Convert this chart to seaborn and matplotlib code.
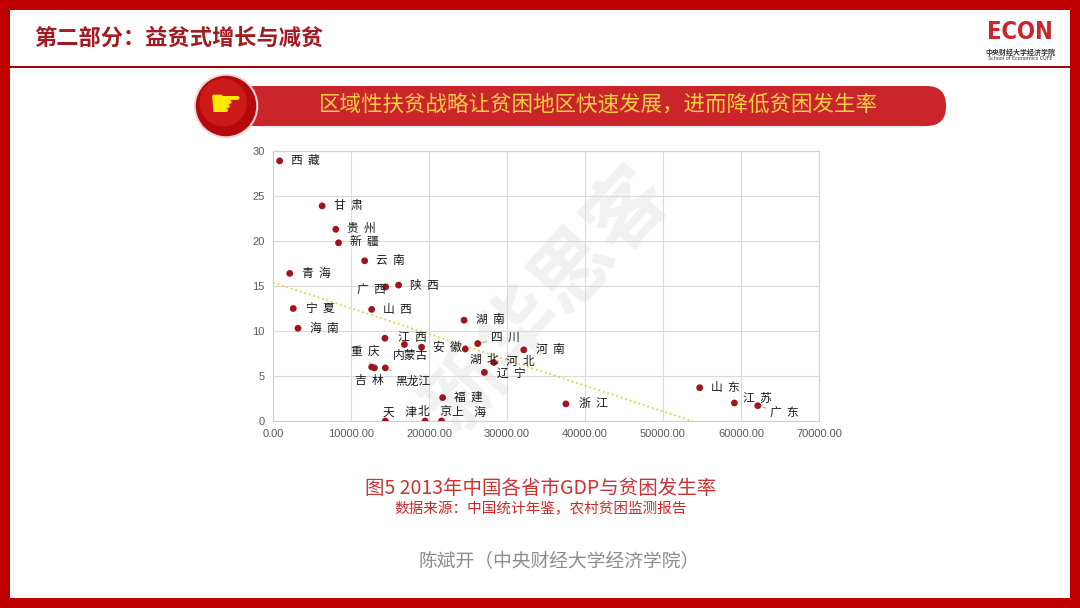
import numpy as np
import pandas as pd
import matplotlib
matplotlib.use("Agg")
import matplotlib.pyplot as plt
from matplotlib.patches import Rectangle, FancyBboxPatch, Circle
import seaborn as sns

# ---------------- data ----------------
provinces = ["西藏", "甘肃", "贵州", "新疆", "云南", "青海", "广西", "陕西", "宁夏", "海南",
             "山西", "湖南", "江西", "内蒙古", "安徽", "湖北", "四川", "河南", "河北", "辽宁",
             "重庆", "吉林", "黑龙江", "福建", "天津", "北京", "上海", "山东", "浙江", "江苏", "广东"]
gdp = [850, 6300, 8050, 8400, 11750, 2150, 14450, 16100, 2600, 3200,
       12650, 24500, 14350, 16850, 19050, 24650, 26250, 32150, 28300, 27100,
       12650, 13000, 14400, 21750, 14400, 19500, 21600, 54700, 37550, 59150, 62150]
poverty = [28.9, 23.9, 21.3, 19.8, 17.8, 16.4, 14.9, 15.1, 12.5, 10.3,
           12.4, 11.2, 9.2, 8.5, 8.2, 8.0, 8.6, 7.9, 6.5, 5.4,
           6.0, 5.9, 5.9, 2.6, 0.0, 0.0, 0.0, 3.7, 1.9, 2.0, 1.7]
x_ticks = [0, 10000, 20000, 30000, 40000, 50000, 60000, 70000]
y_ticks = [0, 5, 10, 15, 20, 25, 30]

header_title = "第二部分：益贫式增长与减贫"
banner_text = "区域性扶贫战略让贫困地区快速发展，进而降低贫困发生率"
caption = "图5 2013年中国各省市GDP与贫困发生率"
source = "数据来源：中国统计年鉴，农村贫困监测报告"
author = "陈斌开（中央财经大学经济学院）"

# ---------------- layout (label offsets in pixels, leaders) ----------------
label_offsets = {
    "西藏": (26, 0), "甘肃": (26, 0), "贵州": (26, 1), "新疆": (26, 1), "云南": (26, 0),
    "青海": (27, 0), "广西": (-14, -3), "陕西": (26, 0), "宁夏": (27, 0), "海南": (26, 0),
    "山西": (26, 0), "湖南": (26, 1), "江西": (27, 1), "内蒙古": (6, -11), "安徽": (26, 0),
    "湖北": (19, -10), "四川": (28, 6), "河南": (27, 0), "河北": (27, 1), "辽宁": (27, -1),
    "重庆": (-6, 16), "吉林": (-5, -13), "黑龙江": (28, -13), "福建": (26, 0),
    "天津": (15, 9), "北京": (10, 9), "上海": (28, 9), "山东": (26, 0), "浙江": (27, 0),
    "江苏": (23, 5), "广东": (27, -8),
}
leaders = {"四川", "重庆", "黑龙江", "广东"}
wide = {"天津", "北京", "上海"}

W, H = 1080, 608
sns.set_theme(style="white")
plt.rcParams["font.family"] = ["Noto Sans CJK SC", "DejaVu Sans"]

fig = plt.figure(figsize=(W / 100, H / 100), dpi=100)
fig.patch.set_facecolor("white")

def fx(x):
    return x / W

def fy(y):
    return 1 - y / H

# background watermark layer
bg = fig.add_axes([0, 0, 1, 1], zorder=-5)
bg.set_xlim(0, W); bg.set_ylim(H, 0); bg.axis("off")
bg.text(548, 300, "新华思客", fontsize=58, fontweight="bold", color="#F1F1F1",
        rotation=48, ha="center", va="center")

# page frame
red = "#C00000"
for (x0, y0, w, h) in [(0, 0, W, 10), (0, 0, 10, H), (0, 598, W, 10), (1070, 0, 10, H)]:
    fig.patches.append(Rectangle((fx(x0), fy(y0 + h)), w / W, h / H, transform=fig.transFigure,
                                 facecolor=red, edgecolor="none", zorder=0))
# header rule
fig.patches.append(Rectangle((fx(10), fy(68)), 1060 / W, 2 / H, transform=fig.transFigure,
                             facecolor="#A80000", edgecolor="none", zorder=1))
fig.text(fx(34), fy(38), header_title, fontsize=16, fontweight="bold", color="#A31A20",
         ha="left", va="center")

# logo
fig.text(fx(1020), fy(32), "ECON", fontsize=17, fontweight="bold", color="#C8262C",
         ha="center", va="center", family=["DejaVu Sans"], stretch="condensed")
fig.text(fx(1020), fy(52), "中央财经大学经济学院", fontsize=5, fontweight="bold", color="#333333",
         ha="center", va="center")
fig.text(fx(1020), fy(58), "School of Economics CUFE", fontsize=3.5, color="#333333",
         ha="center", va="center", family=["DejaVu Sans"])

# banner
fig.patches.append(FancyBboxPatch((fx(236), fy(128)), (948 - 236) / W, 42 / H,
                                  boxstyle="round,pad=0,rounding_size=0.03",
                                  transform=fig.transFigure, facecolor="#EDEFF5",
                                  edgecolor="none", zorder=1, mutation_aspect=W / H))
fig.patches.append(FancyBboxPatch((fx(236), fy(126)), (946 - 236) / W, 40 / H,
                                  boxstyle="round,pad=0,rounding_size=0.018",
                                  transform=fig.transFigure, facecolor="#C9252B",
                                  edgecolor="none", zorder=2, mutation_aspect=W / H))
fig.text(fx(598), fy(105), banner_text, fontsize=15.5, color="#F6CF45", ha="center", va="center")
circ_ax = fig.add_axes([fx(192), fy(140), 68 / W, 68 / H], zorder=10)
circ_ax.set_xlim(-1, 1); circ_ax.set_ylim(-1, 1); circ_ax.set_aspect("equal"); circ_ax.axis("off")
circ_ax.add_patch(Circle((0, 0), 0.95, facecolor="#F3D6D6", edgecolor="none"))
circ_ax.add_patch(Circle((0, 0), 0.89, facecolor="#B40A0E", edgecolor="none"))
circ_ax.add_patch(Circle((-0.08, 0.1), 0.7, facecolor="#CC1A1A", edgecolor="none"))
circ_ax.text(0, 0.0, "☛", fontsize=27, color="#FFEA00", ha="center", va="center",
             family=["DejaVu Sans"])

# ---------------- chart ----------------
ax = fig.add_axes([fx(273), fy(421), (819 - 273) / W, (421 - 151) / H])
ax.set_facecolor("none")
df = pd.DataFrame({"province": provinces, "gdp": gdp, "poverty": poverty})

coef = np.polyfit(df["gdp"], df["poverty"], 1)
xs = np.linspace(0, max(gdp), 200)
ax.plot(xs, np.polyval(coef, xs), color="#E3CF4E", lw=1.3, ls=(0, (1, 1.6)), zorder=2)

sns.scatterplot(data=df, x="gdp", y="poverty", ax=ax, color="#A0141A", s=24,
                edgecolor="none", legend=False, zorder=3)

for name, xv, yv in zip(provinces, gdp, poverty):
    if len(name) == 2:
        txt = name[0] + ("    " if name in wide else "  ") + name[1]
    else:
        txt = name
    dx, dy = label_offsets[name]
    kw = {}
    if name in leaders:
        kw["arrowprops"] = dict(arrowstyle="-", color="#A6A6A6", lw=0.7, shrinkA=1, shrinkB=3)
    ax.annotate(txt, (xv, yv), xytext=(dx, dy), textcoords="offset pixels",
                fontsize=8.5, color="#1A1A1A", ha="center", va="center", zorder=4, **kw)

ax.set_xlim(0, 70000)
ax.set_ylim(0, 30)
ax.set_xticks(x_ticks)
ax.set_yticks(y_ticks)
ax.set_xticklabels([f"{v:.2f}" for v in x_ticks], family=["Liberation Sans"], fontsize=8,
                   color="#595959")
ax.set_yticklabels([str(v) for v in y_ticks], family=["Liberation Sans"], fontsize=8,
                   color="#595959")
ax.tick_params(axis="both", length=0, pad=6)
ax.grid(True, color="#DADADA", lw=0.8)
ax.set_axisbelow(True)
for s in ax.spines.values():
    s.set_color("#D0D0D0")
    s.set_linewidth(0.8)
ax.set_xlabel("")
ax.set_ylabel("")

fig.text(fx(541), fy(488), caption, fontsize=14, color="#CC3333", ha="center", va="center")
fig.text(fx(541), fy(509), source, fontsize=10.5, color="#CC2A2A", ha="center", va="center")
fig.text(fx(559), fy(562), author, fontsize=13.5, color="#8C8C8C", ha="center", va="center")

fig.savefig("out.png", dpi=100, facecolor="white")
